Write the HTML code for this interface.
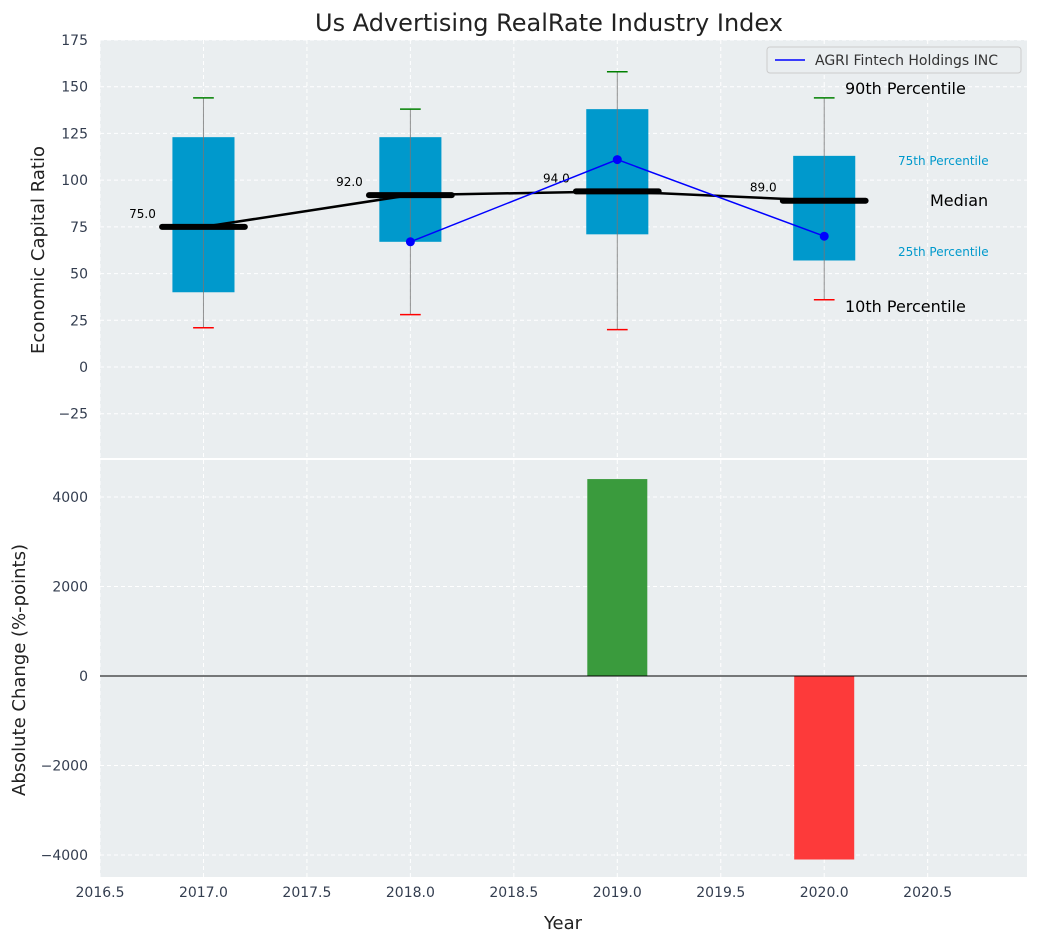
<!DOCTYPE html>
<html><head><meta charset="utf-8"><style>
body{margin:0;background:#fff;font-family:"Liberation Sans","DejaVu Sans",sans-serif}
svg text{font-family:"DejaVu Sans","Liberation Sans",sans-serif}
</style></head><body>
<svg id="chart" width="1039" height="942" xmlns="http://www.w3.org/2000/svg"></svg>
<script>
const years=[2017,2018,2019,2020];
const p10=[21,28,20,36];
const q1=[40,67,71,57];
const medians=[75,92,94,89];
const q3=[123,123,138,113];
const p90=[144,138,158,144];
const compYears=[2018,2019,2020];
const compVals=[67,111,70];
const changeYears=[2019,2020];
const changeVals=[4400,-4100];
const xTicks=[2016.5,2017,2017.5,2018,2018.5,2019,2019.5,2020,2020.5];
const yTopTicks=[-25,0,25,50,75,100,125,150,175];
const yBotTicks=[-4000,-2000,0,2000,4000];

const NS="http://www.w3.org/2000/svg";
const svg=document.getElementById('chart');
function el(t,a,p){const e=document.createElementNS(NS,t);for(const k in a)e.setAttribute(k,a[k]);(p||svg).appendChild(e);return e;}
const L=100,R=1027,T1=40,B1=458,T2=460,B2=877;
const x=v=>L+(v-2016.5)*(R-L)/(2020.98-2016.5);
const yT=v=>T1+(175-v)*(B1-T1)/(175+48.7);
const yB=v=>T2+(4826-v)*(B2-T2)/(4826+4491);
const bg='#eaeef0';
let r=el('rect',{x:L,y:T1,width:R-L,height:B1-T1,fill:bg});

r=el('rect',{x:L,y:T2,width:R-L,height:B2-T2,fill:bg});

// grids
xTicks.forEach(v=>{
  el('line',{x1:x(v),x2:x(v),y1:T1,y2:B1,stroke:'#fff','stroke-dasharray':'4,3'});
  el('line',{x1:x(v),x2:x(v),y1:T2,y2:B2,stroke:'#fff','stroke-dasharray':'4,3'});
  let t=el('text',{x:x(v),y:B2+20,'text-anchor':'middle','font-size':14,fill:'#333d4f'});t.textContent=v.toFixed(1);
  
});
yTopTicks.forEach(v=>{
  el('line',{x1:L,x2:R,y1:yT(v),y2:yT(v),stroke:'#fff','stroke-dasharray':'4,3'});
  let t=el('text',{x:L-12,y:yT(v)+5,'text-anchor':'end','font-size':14,fill:'#333d4f'});t.textContent=v<0?'\u2212'+(-v):v;
  
});
yBotTicks.forEach(v=>{
  el('line',{x1:L,x2:R,y1:yB(v),y2:yB(v),stroke:'#fff','stroke-dasharray':'4,3'});
  let t=el('text',{x:L-12,y:yB(v)+5,'text-anchor':'end','font-size':14,fill:'#333d4f'});t.textContent=v<0?'\u2212'+(-v):v;
  
});
// boxes
const bw=0.3;
years.forEach((yr,i)=>{
  let b=el('rect',{x:x(yr-bw/2),y:yT(q3[i]),width:x(yr+bw/2)-x(yr-bw/2),height:yT(q1[i])-yT(q3[i]),fill:'#0099cc'});
  
  el('line',{x1:x(yr),x2:x(yr),y1:yT(p90[i]),y2:yT(p10[i]),stroke:'#777','stroke-width':1,opacity:0.8});
  let c=el('line',{x1:x(yr-0.05),x2:x(yr+0.05),y1:yT(p90[i]),y2:yT(p90[i]),stroke:'green','stroke-width':1.5});
  
  c=el('line',{x1:x(yr-0.05),x2:x(yr+0.05),y1:yT(p10[i]),y2:yT(p10[i]),stroke:'red','stroke-width':1.5});
  
});
// median line
let pl=el('polyline',{points:years.map((yr,i)=>x(yr)+','+yT(medians[i])).join(' '),fill:'none',stroke:'#000','stroke-width':2.5});

years.forEach((yr,i)=>{
  let m=el('line',{x1:x(yr-0.2),x2:x(yr+0.2),y1:yT(medians[i]),y2:yT(medians[i]),stroke:'#000','stroke-width':6,'stroke-linecap':'round'});
  
  let t=el('text',{x:x(yr-0.23),y:yT(medians[i])-9,'text-anchor':'end','font-size':12,fill:'#000'});t.textContent=medians[i].toFixed(1);
  
});
// company line
pl=el('polyline',{points:compYears.map((yr,i)=>x(yr)+','+yT(compVals[i])).join(' '),fill:'none',stroke:'blue','stroke-width':1.5});

compYears.forEach((yr,i)=>{let c=el('circle',{cx:x(yr),cy:yT(compVals[i]),r:4.5,fill:'blue'});
  });
// annotations
[['90th Percentile',845,94,16,'#000'],['75th Percentile',898,165,12,'#0099cc'],['Median',930,206,16,'#000'],['25th Percentile',898,256,12,'#0099cc'],['10th Percentile',845,312,16,'#000']].forEach(a=>{
  let t=el('text',{x:a[1],y:a[2],'font-size':a[3],fill:a[4]});t.textContent=a[0];
  
});
// legend
let lg=el('g',{});
el('rect',{x:767,y:47,width:254,height:26,rx:3,fill:'#eaeef0',stroke:'#ccc'},lg);
el('line',{x1:775,x2:805,y1:60,y2:60,stroke:'blue','stroke-width':1.5},lg);
let lt=el('text',{x:815,y:65,'font-size':14,fill:'#333'},lg);lt.textContent='AGRI Fintech Holdings INC';
// bars
changeYears.forEach((yr,i)=>{
  const v=changeVals[i];
  let b=el('rect',{x:x(yr-0.145),width:x(yr+0.145)-x(yr-0.145),y:Math.min(yB(v),yB(0)),height:Math.abs(yB(v)-yB(0)),fill:v>=0?'#3a9b3d':'#fd3a3a'});
  
});
el('line',{x1:L,x2:R,y1:yB(0),y2:yB(0),stroke:'#000','stroke-width':1});
// titles
let t=el('text',{x:549,y:31,'text-anchor':'middle','font-size':24,fill:'#222'});t.textContent='Us Advertising RealRate Industry Index';

t=el('text',{x:0,y:0,'text-anchor':'middle','font-size':18,fill:'#222',transform:'translate(44,250) rotate(-90)'});t.textContent='Economic Capital Ratio';

t=el('text',{x:0,y:0,'text-anchor':'middle','font-size':18,fill:'#222',transform:'translate(25,670) rotate(-90)'});t.textContent='Absolute Change (%-points)';

t=el('text',{x:563,y:929,'text-anchor':'middle','font-size':18,fill:'#222'});t.textContent='Year';

</script>
</body></html>
